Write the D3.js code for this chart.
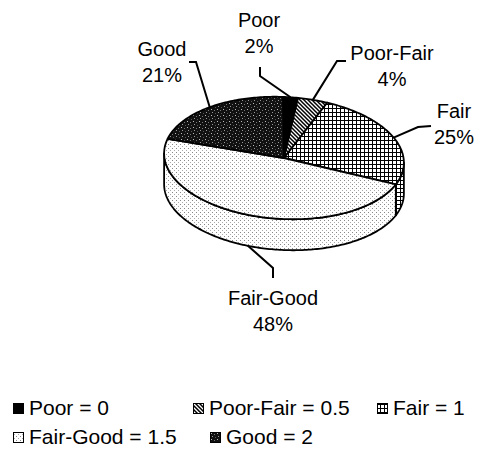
<!DOCTYPE html>
<html>
<head>
<meta charset="utf-8">
<script src="https://cdn.jsdelivr.net/npm/d3@7"></script>
<style>
  body { margin: 0; background: #fff; }
  text { font-family: "Liberation Sans", Arial, sans-serif; font-size: 20px; fill: #000; }
  .legend text { font-size: 21px; }
</style>
</head>
<body>
<svg id="chart" width="481" height="450"></svg>
<script>
// data
var categories = ["Poor", "Poor-Fair", "Fair", "Fair-Good", "Good"];
var percents = [2, 4, 25, 48, 21];
var legendLabels = ["Poor = 0", "Poor-Fair = 0.5", "Fair = 1", "Fair-Good = 1.5", "Good = 2"];
var fills = ["solid", "stripes", "grid", "dots", "dark"];

// where the labels sit and how the leader lines bend
var labelLayout = [
  { x: 259, y: 27, elbow: [260, 76], end: [260, 67] },
  { x: 392, y: 60, elbow: [337, 61], end: [346, 61] },
  { x: 454, y: 118, elbow: [418, 127], end: [431, 126] },
  { x: 273, y: 305, elbow: [273, 268], end: [273, 278], side: true },
  { x: 162, y: 56, elbow: [196, 62], end: [189, 62] }
];
var legendPos = [[13, 403], [193, 403], [377, 403], [13, 432], [210, 432]];

var svg = d3.select("#chart");
var cx = 284, cy = 158, rx = 120, ry = 61, depth = 31;
var tilt = 3 * Math.PI / 180;
var start = -2 * Math.PI / 180;

var defs = svg.append("defs");

function tile(id, size, bg) {
  var p = defs.append("pattern")
    .attr("id", id)
    .attr("patternUnits", "userSpaceOnUse")
    .attr("width", size)
    .attr("height", size);
  p.append("rect").attr("width", size).attr("height", size).attr("fill", bg);
  return p;
}

var solid = tile("solid", 4, "#000");

var stripes = tile("stripes", 4, "#fff");
stripes.append("path")
  .attr("d", "M-1,-1L5,5M-1,3L1,5M3,-1L5,1")
  .attr("stroke", "#000")
  .attr("stroke-width", 1.5);

var grid = tile("grid", 4, "#fff");
grid.append("path")
  .attr("d", "M0,0.5H4M0.5,0V4")
  .attr("stroke", "#000")
  .attr("stroke-width", 1);

var dots = tile("dots", 4, "#fff");
dots.append("rect").attr("x", 0).attr("y", 0).attr("width", 1).attr("height", 1).attr("fill", "#888");
dots.append("rect").attr("x", 2).attr("y", 2).attr("width", 1).attr("height", 1).attr("fill", "#aaa");

var dark = tile("dark", 6, "#111");
[[1, 1, "#bbb"], [4, 2, "#777"], [2, 4, "#999"], [5, 5, "#555"]].forEach(function(d) {
  dark.append("rect").attr("x", d[0]).attr("y", d[1]).attr("width", 1).attr("height", 1).attr("fill", d[2]);
});

// point on the tilted ellipse at angle a (clockwise from top), h pixels down
function pt(a, h) {
  var x = rx * Math.sin(a), y = -ry * Math.cos(a);
  return [cx + x * Math.cos(tilt) - y * Math.sin(tilt),
          cy + x * Math.sin(tilt) + y * Math.cos(tilt) + (h || 0)];
}

function arcPoints(a0, a1, h) {
  var n = Math.max(2, Math.ceil(Math.abs(a1 - a0) / (Math.PI / 180)));
  return d3.range(n + 1).map(function(i) {
    return pt(a0 + (a1 - a0) * i / n, h);
  });
}

var pie = d3.pie().sort(null).startAngle(start).endAngle(start + 2 * Math.PI);
var slices = pie(percents);

// front facing part of the rim
var aR = Math.atan2(rx * Math.cos(tilt), ry * Math.sin(tilt));
var aL = aR + Math.PI;

var line = d3.line();
var sides = svg.append("g");
slices.forEach(function(s, i) {
  [-1, 0, 1].forEach(function(k) {
    var a0 = Math.max(s.startAngle, aR + 2 * Math.PI * k);
    var a1 = Math.min(s.endAngle, aL + 2 * Math.PI * k);
    if (a1 <= a0) return;
    var pts = arcPoints(a0, a1, 0).concat(arcPoints(a1, a0, depth));
    sides.append("path")
      .attr("d", line(pts) + "Z")
      .attr("fill", "url(#" + fills[i] + ")")
      .attr("stroke", "#000")
      .attr("stroke-width", 1.8)
      .attr("stroke-linejoin", "round");
  });
});

var tops = svg.append("g");
slices.forEach(function(s, i) {
  var pts = [[cx, cy]].concat(arcPoints(s.startAngle, s.endAngle, 0));
  tops.append("path")
    .attr("d", line(pts) + "Z")
    .attr("fill", "url(#" + fills[i] + ")")
    .attr("stroke", "#000")
    .attr("stroke-width", 1.8)
    .attr("stroke-linejoin", "round");
});

// leader lines and labels
slices.forEach(function(s, i) {
  var L = labelLayout[i];
  var mid = (s.startAngle + s.endAngle) / 2;
  var p0 = pt(mid, L.side ? depth : 0);
  svg.append("path")
    .attr("d", line([p0, L.elbow, L.end]))
    .attr("fill", "none")
    .attr("stroke", "#000")
    .attr("stroke-width", 2);
  var t = svg.append("text").attr("text-anchor", "middle");
  t.append("tspan").attr("x", L.x).attr("y", L.y).text(categories[i]);
  t.append("tspan").attr("x", L.x).attr("y", L.y + 26).text(percents[i] + "%");
});

// legend
var legend = svg.append("g").attr("class", "legend");
legendLabels.forEach(function(lab, i) {
  var p = legendPos[i];
  legend.append("rect")
    .attr("x", p[0] + 0.5)
    .attr("y", p[1] + 0.5)
    .attr("width", 10)
    .attr("height", 10)
    .attr("fill", "url(#" + fills[i] + ")")
    .attr("stroke", "#000")
    .attr("stroke-width", 1);
  legend.append("text")
    .attr("x", p[0] + 16)
    .attr("y", p[1] + 12)
    .text(lab);
});
</script>
</body>
</html>
